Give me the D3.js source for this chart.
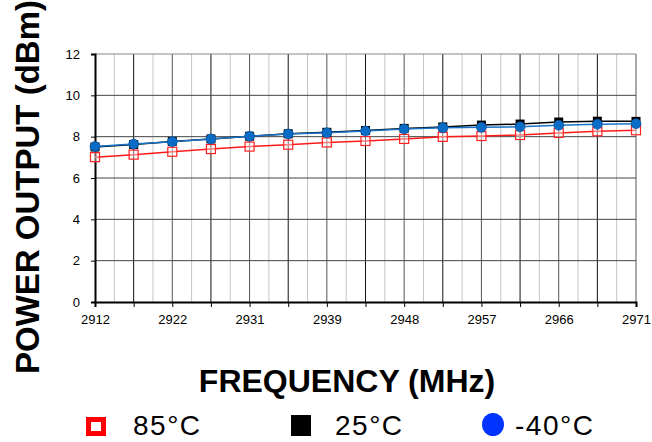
<!DOCTYPE html>
<html><head><meta charset="utf-8">
<script src="https://cdn.jsdelivr.net/npm/d3@7"></script>
<style>body{margin:0;background:#fff}svg{display:block}</style>
</head><body>
<svg id="c" width="652" height="442"></svg>
<script>
const pointIdx = [0,1,2,3,4,5,6,7,8,9,10,11,12,13,14];
const freqLabels = ["2912","2922","2931","2939","2948","2957","2966","2971"];
const yTicks = [0,2,4,6,8,10,12];
const s85 = [7.01,7.13,7.27,7.40,7.52,7.61,7.72,7.79,7.89,7.99,8.03,8.08,8.18,8.26,8.31];
const s25 = [7.50,7.62,7.77,7.89,8.02,8.14,8.21,8.30,8.40,8.47,8.56,8.61,8.71,8.75,8.74];
const sM40 = [7.52,7.64,7.76,7.89,8.02,8.13,8.19,8.27,8.37,8.43,8.45,8.48,8.55,8.60,8.63];
const seriesNames = ["85°C","25°C","-40°C"];

const svg = d3.select("#c");
const L=95,R=636,T=54,B=302;
const x = d3.scaleLinear().domain([0,14]).range([L,R]);
const y = d3.scaleLinear().domain([0,12]).range([B,T]);
const font = "'Liberation Sans', Arial, sans-serif";

// minor vertical gridlines
const mids = pointIdx.slice(0,-1).map(i=>i+0.5);
svg.append("g").selectAll("line").data(mids).join("line")
  .attr("x1",d=>x(d)).attr("x2",d=>x(d)).attr("y1",T).attr("y2",B)
  .attr("stroke","#c4c4c4").attr("stroke-width",1);
// major vertical gridlines
svg.append("g").selectAll("line").data(pointIdx.slice(1)).join("line")
  .attr("x1",d=>x(d)).attr("x2",d=>x(d)).attr("y1",T).attr("y2",B)
  .attr("stroke",(d,i)=> i%2? "#555":"#111").attr("stroke-width",1);
// horizontal gridlines
svg.append("g").selectAll("line").data(yTicks.slice(1)).join("line")
  .attr("x1",L).attr("x2",R).attr("y1",d=>y(d)).attr("y2",d=>y(d))
  .attr("stroke",d=>d===12?"#888":"#444").attr("stroke-width",1);

// axes
const ya = svg.append("g").attr("transform",`translate(${L},0)`)
  .call(d3.axisLeft(y).tickValues(yTicks).tickSize(4).tickPadding(11));
ya.select(".domain").attr("stroke","#000").attr("stroke-width",2);
ya.selectAll("text").attr("font-family",font).attr("font-size",13).attr("fill","#000");
const xa = svg.append("g").attr("transform",`translate(0,${B})`)
  .call(d3.axisBottom(x).tickValues(pointIdx).tickSize(5).tickPadding(8)
    .tickFormat(i=> i%2===0 ? freqLabels[i/2] : ""));
xa.select(".domain").attr("stroke","#000").attr("stroke-width",2);
xa.selectAll("text").attr("font-family",font).attr("font-size",13).attr("fill","#000");

const line = d3.line().x((d,i)=>x(pointIdx[i])).y(d=>y(d));
// 85
svg.append("path").datum(s85).attr("d",line).attr("fill","none").attr("stroke","#ff1a1a").attr("stroke-width",1.5);
svg.append("g").selectAll("rect").data(s85).join("rect")
  .attr("x",(d,i)=>x(pointIdx[i])-4.5).attr("y",d=>y(d)-4.5).attr("width",9).attr("height",9)
  .attr("fill","#fff").attr("fill-opacity",0.4).attr("stroke","#ff2020").attr("stroke-width",1.2);
// 25
svg.append("path").datum(s25).attr("d",line).attr("fill","none").attr("stroke","#000").attr("stroke-width",1.5);
svg.append("g").selectAll("rect").data(s25).join("rect")
  .attr("x",(d,i)=>x(pointIdx[i])-4.5).attr("y",d=>y(d)-4.5).attr("width",9).attr("height",9)
  .attr("fill","#000");
// -40
svg.append("path").datum(sM40).attr("d",line).attr("fill","none").attr("stroke","#1a73c8").attr("stroke-width",1.5);
svg.append("g").selectAll("circle").data(sM40).join("circle")
  .attr("cx",(d,i)=>x(pointIdx[i])).attr("cy",d=>y(d)).attr("r",5)
  .attr("fill","#0a6cc4").attr("stroke","#0a4f99").attr("stroke-width",0.6);

// titles
svg.append("text").attr("transform","translate(39,187) rotate(-90)")
  .attr("text-anchor","middle").attr("font-family",font).attr("font-weight","bold")
  .attr("font-size",33).text("POWER OUTPUT (dBm)");
svg.append("text").attr("x",347).attr("y",392)
  .attr("text-anchor","middle").attr("font-family",font).attr("font-weight","bold")
  .attr("font-size",32).text("FREQUENCY (MHz)");

// legend
const lg = svg.append("g");
lg.append("rect").attr("x",88.5).attr("y",419.5).attr("width",15).attr("height",14)
  .attr("fill","#fff").attr("stroke","#ff0000").attr("stroke-width",5);
lg.append("rect").attr("x",291).attr("y",415).attr("width",20).attr("height",21).attr("fill","#000");
lg.append("ellipse").attr("cx",493).attr("cy",424.5).attr("rx",11).attr("ry",11.5).attr("fill","#0033ff");
const lx=[133,335,515];
lg.selectAll("text").data(seriesNames).join("text")
  .attr("x",(d,i)=>lx[i]).attr("y",435).attr("font-family",font).attr("font-size",28)
  .attr("letter-spacing",1.5)
  .text(d=>d);
</script>
</body></html>
